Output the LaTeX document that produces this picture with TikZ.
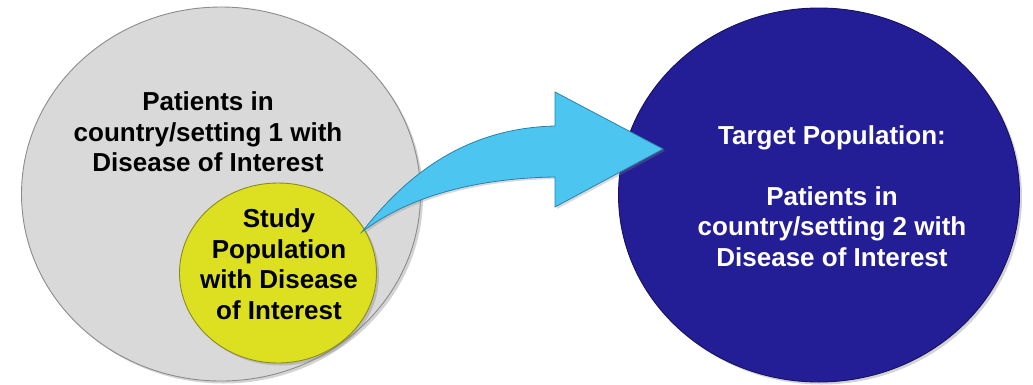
\documentclass[tikz,border=0pt]{standalone}
\usepackage{fontspec}
\setmainfont{Liberation Sans}
\usetikzlibrary{shapes.geometric,shadows}
\definecolor{popgray}{HTML}{D9D9D9}
\definecolor{popgrayline}{HTML}{8C8C8C}
\definecolor{studyyellow}{HTML}{DCE021}
\definecolor{studyline}{HTML}{8A8C1E}
\definecolor{targetblue}{HTML}{231E96}
\definecolor{targetline}{HTML}{16125E}
\definecolor{arrowblue}{HTML}{4CC5F0}
\definecolor{arrowline}{HTML}{2A82AA}
\tikzset{
  popcircle/.style={ellipse, draw, line width=0.9pt, inner sep=0pt,
    drop shadow={shadow xshift=2.5pt, shadow yshift=-2.5pt, opacity=0.35}},
  poptext/.style={align=center, font=\bfseries\fontsize{26}{30.5}\selectfont},
}
\begin{document}
\begin{tikzpicture}[x=1pt,y=-1pt]
\useasboundingbox (0,0) rectangle (1033,384);
% wider population of country/setting 1
\node[popcircle, fill=popgray, draw=popgrayline,
      minimum width=399pt, minimum height=374pt] (pop1) at (221,194) {};
\node[poptext] (pop1text) at (208,132)
  {Patients in\\country/setting 1 with\\Disease of Interest};
% study population inside it
\node[popcircle, fill=studyyellow, draw=studyline,
      minimum width=197pt, minimum height=180pt] (study) at (278,273) {};
\node[poptext] (studytext) at (279,264)
  {Study\\Population\\with Disease\\of Interest};
% target population
\node[popcircle, fill=targetblue, draw=targetline,
      minimum width=401pt, minimum height=374pt] (target) at (819,195) {};
\node[poptext, text=white] (targettext) at (832,196)
  {Target Population:\\[30.5pt]Patients in\\country/setting 2 with\\Disease of Interest};
% curved block arrow from the study population towards the target
\coordinate (tail) at (362,232);
\coordinate (tip) at (663,149);
\draw[fill=arrowblue, draw=arrowline, line width=0.8pt, line join=miter,
      drop shadow={shadow xshift=2pt, shadow yshift=-2pt, opacity=0.3}]
  (tail) .. controls (410,170) and (470,128) .. (555,126)
  -- (555,92) -- (tip) -- (555,207) -- (555,177)
  .. controls (480,178) and (410,195) .. (tail) -- cycle;
\end{tikzpicture}
\end{document}
